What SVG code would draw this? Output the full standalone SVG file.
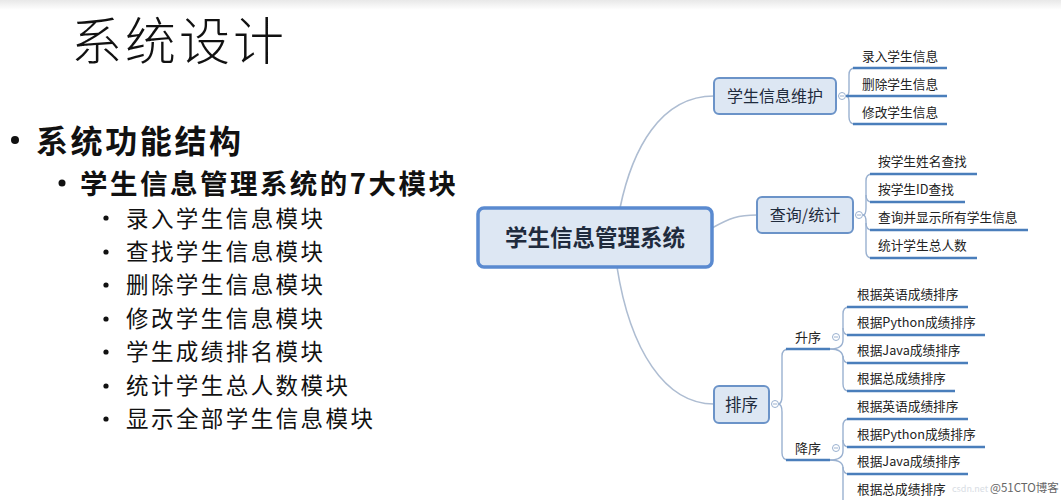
<svg xmlns="http://www.w3.org/2000/svg" width="1061" height="500" viewBox="0 0 1061 500">
<defs>
<linearGradient id="topfade" x1="0" y1="0" x2="0" y2="1">
<stop offset="0" stop-color="#e8e8e8"/>
<stop offset="1" stop-color="#ffffff"/>
</linearGradient>
</defs>
<style>
.slide{font-family:"Noto Sans CJK SC","Liberation Sans",sans-serif;fill:#111}
.title{font-size:51px;font-weight:300}
.l1{font-size:32px;font-weight:bold}
.l2{font-size:27.5px;font-weight:bold}
.l3{font-size:22.5px}
.dot{fill:#111}
.node rect{fill:#dde7f3;stroke:#6b93c8;stroke-width:2}
.root rect{fill:#dde7f3;stroke:#5a8ad0;stroke-width:3.5}
.nt{font-family:"Noto Sans CJK SC","Liberation Sans",sans-serif;fill:#1f2b3d;text-anchor:middle}
.leaf{font-family:"Noto Sans CJK SC","Liberation Sans",sans-serif;font-size:12.7px;fill:#222}
.ul{stroke:#4a7ebb;stroke-width:2.5;fill:none}
.br{stroke:#9ab1d0;stroke-width:1.4;fill:none}
.main{stroke:#aebdd2;stroke-width:1.6;fill:none}
.tog circle{fill:#fff;stroke:#9ab1d0;stroke-width:1}
.tog line{stroke:#9ab1d0;stroke-width:1}
</style>
<rect width="1061" height="500" fill="#fff"/>
<rect width="1061" height="10" fill="url(#topfade)"/>

<g id="slide-text" class="slide">
<text class="title" x="71" y="60" textLength="213" lengthAdjust="spacing">系统设计</text>
<circle class="dot" cx="15" cy="140" r="4"/>
<text class="l1" x="36" y="153" textLength="205" lengthAdjust="spacing">系统功能结构</text>
<circle class="dot" cx="62" cy="183" r="3.5"/>
<text class="l2" x="80" y="194" textLength="376" lengthAdjust="spacing">学生信息管理系统的7大模块</text>
<g>
<circle class="dot" cx="106" cy="218" r="2.6"/>
<text class="l3" x="126" y="226.5" textLength="197" lengthAdjust="spacing">录入学生信息模块</text>
<circle class="dot" cx="106" cy="252" r="2.6"/>
<text class="l3" x="126" y="260" textLength="197" lengthAdjust="spacing">查找学生信息模块</text>
<circle class="dot" cx="106" cy="285" r="2.6"/>
<text class="l3" x="126" y="293" textLength="197" lengthAdjust="spacing">删除学生信息模块</text>
<circle class="dot" cx="106" cy="319" r="2.6"/>
<text class="l3" x="126" y="327" textLength="197" lengthAdjust="spacing">修改学生信息模块</text>
<circle class="dot" cx="106" cy="352" r="2.6"/>
<text class="l3" x="126" y="360" textLength="197" lengthAdjust="spacing">学生成绩排名模块</text>
<circle class="dot" cx="106" cy="386" r="2.6"/>
<text class="l3" x="126" y="394" textLength="222" lengthAdjust="spacing">统计学生总人数模块</text>
<circle class="dot" cx="106" cy="419" r="2.6"/>
<text class="l3" x="126" y="427" textLength="247" lengthAdjust="spacing">显示全部学生信息模块</text>
</g>
</g>

<g id="connectors">
<path class="main" d="M620,208 C632,150 660,96 714,96"/>
<path class="main" d="M712,228 C730,218 738,215 757,215"/>
<path class="main" d="M617,267 C630,350 665,404 714,404"/>
<path class="br" d="M846,96 Q849,96 849,90 V75 Q849,68 855,68"/>
<path class="br" d="M846,96 Q849,96 849,102 V117 Q849,124 855,124"/>
<path class="ul" d="M846,96 H947"/>
<path class="ul" d="M853,68 H947"/>
<path class="ul" d="M853,124 H947"/>
<path class="br" d="M863,215 Q866,215 866,208 V181 Q866,174 872,174"/>
<path class="br" d="M866,195 Q866,202 872,202"/>
<path class="br" d="M863,215 Q866,215 866,222 V251 Q866,258 872,258"/>
<path class="br" d="M866,223 Q866,230 872,230"/>
<path class="ul" d="M870,174 H977"/>
<path class="ul" d="M870,202 H965"/>
<path class="ul" d="M870,230 H1028"/>
<path class="ul" d="M870,258 H977"/>
<path class="br" d="M778,404 Q782,404 782,396 V356 Q782,349 789,349"/>
<path class="br" d="M778,404 Q782,404 782,412 V453 Q782,460 789,460"/>
<path class="ul" d="M786,349 H830"/>
<path class="ul" d="M786,460 H830"/>
<path class="br" d="M830,349 Q843,349 843,340 V314 Q843,307 849,307"/>
<path class="br" d="M843,328 Q843,335 849,335"/>
<path class="br" d="M830,349 Q843,349 843,358 V384 Q843,391 849,391"/>
<path class="br" d="M843,356 Q843,363 849,363"/>
<path class="ul" d="M847,307 H968"/>
<path class="ul" d="M847,335 H985"/>
<path class="ul" d="M847,363 H968"/>
<path class="ul" d="M847,391 H955"/>
<path class="br" d="M830,460 Q843,460 843,451 V426 Q843,419 849,419"/>
<path class="br" d="M843,440 Q843,447 849,447"/>
<path class="br" d="M830,460 Q843,460 843,468 V500"/>
<path class="br" d="M843,467 Q843,474 849,474"/>
<path class="ul" d="M847,419 H968"/>
<path class="ul" d="M847,447 H985"/>
<path class="ul" d="M847,474 H968"/>
<path class="ul" d="M847,502 H955"/>
</g>

<g id="toggles" class="tog">
<circle cx="842" cy="96" r="3.5"/><line x1="840" y1="96" x2="844" y2="96"/>
<circle cx="859" cy="215" r="3.5"/><line x1="857" y1="215" x2="861" y2="215"/>
<circle cx="775" cy="404" r="3.5"/><line x1="773" y1="404" x2="777" y2="404"/>
<circle cx="836" cy="337" r="3.5"/><line x1="834" y1="337" x2="838" y2="337"/>
<circle cx="836" cy="448" r="3.5"/><line x1="834" y1="448" x2="838" y2="448"/>
</g>

<g id="node-root" class="root">
<rect x="478" y="208" width="234" height="59" rx="6"/>
<text class="nt" x="595" y="246" font-size="22.5" font-weight="bold" fill="#2e4566">学生信息管理系统</text>
</g>
<g id="node-maint" class="node">
<rect x="714" y="78" width="122" height="36" rx="5"/>
<text class="nt" x="775" y="102" font-size="16">学生信息维护</text>
</g>
<g id="node-query" class="node">
<rect x="757" y="197" width="96" height="36" rx="5"/>
<text class="nt" x="805" y="221" font-size="16">查询/统计</text>
</g>
<g id="node-sort" class="node">
<rect x="714" y="386" width="55" height="37" rx="5"/>
<text class="nt" x="741.5" y="411" font-size="16.5">排序</text>
</g>

<g id="leaves-maint" class="leaf">
<text x="862" y="61">录入学生信息</text>
<text x="862" y="89">删除学生信息</text>
<text x="862" y="117">修改学生信息</text>
</g>
<g id="leaves-query" class="leaf">
<text x="878" y="166">按学生姓名查找</text>
<text x="878" y="194">按学生ID查找</text>
<text x="878" y="222">查询并显示所有学生信息</text>
<text x="878" y="250">统计学生总人数</text>
</g>
<g id="node-asc" class="leaf">
<text x="795" y="342" font-size="13">升序</text>
</g>
<g id="node-desc" class="leaf">
<text x="795" y="453" font-size="13">降序</text>
</g>
<g id="leaves-asc" class="leaf">
<text x="857" y="299">根据英语成绩排序</text>
<text x="857" y="327">根据Python成绩排序</text>
<text x="857" y="355">根据Java成绩排序</text>
<text x="857" y="383">根据总成绩排序</text>
</g>
<g id="leaves-desc" class="leaf">
<text x="857" y="411">根据英语成绩排序</text>
<text x="857" y="439">根据Python成绩排序</text>
<text x="857" y="466">根据Java成绩排序</text>
<text x="857" y="494">根据总成绩排序</text>
</g>

<g id="watermark" font-family="Noto Sans CJK SC, Liberation Sans, sans-serif">
<text x="952" y="492" font-size="9" fill="#d8dde4">csdn.net</text>
<text x="990" y="492" font-size="11.5" fill="#666">@51CTO博客</text>
</g>
</svg>
